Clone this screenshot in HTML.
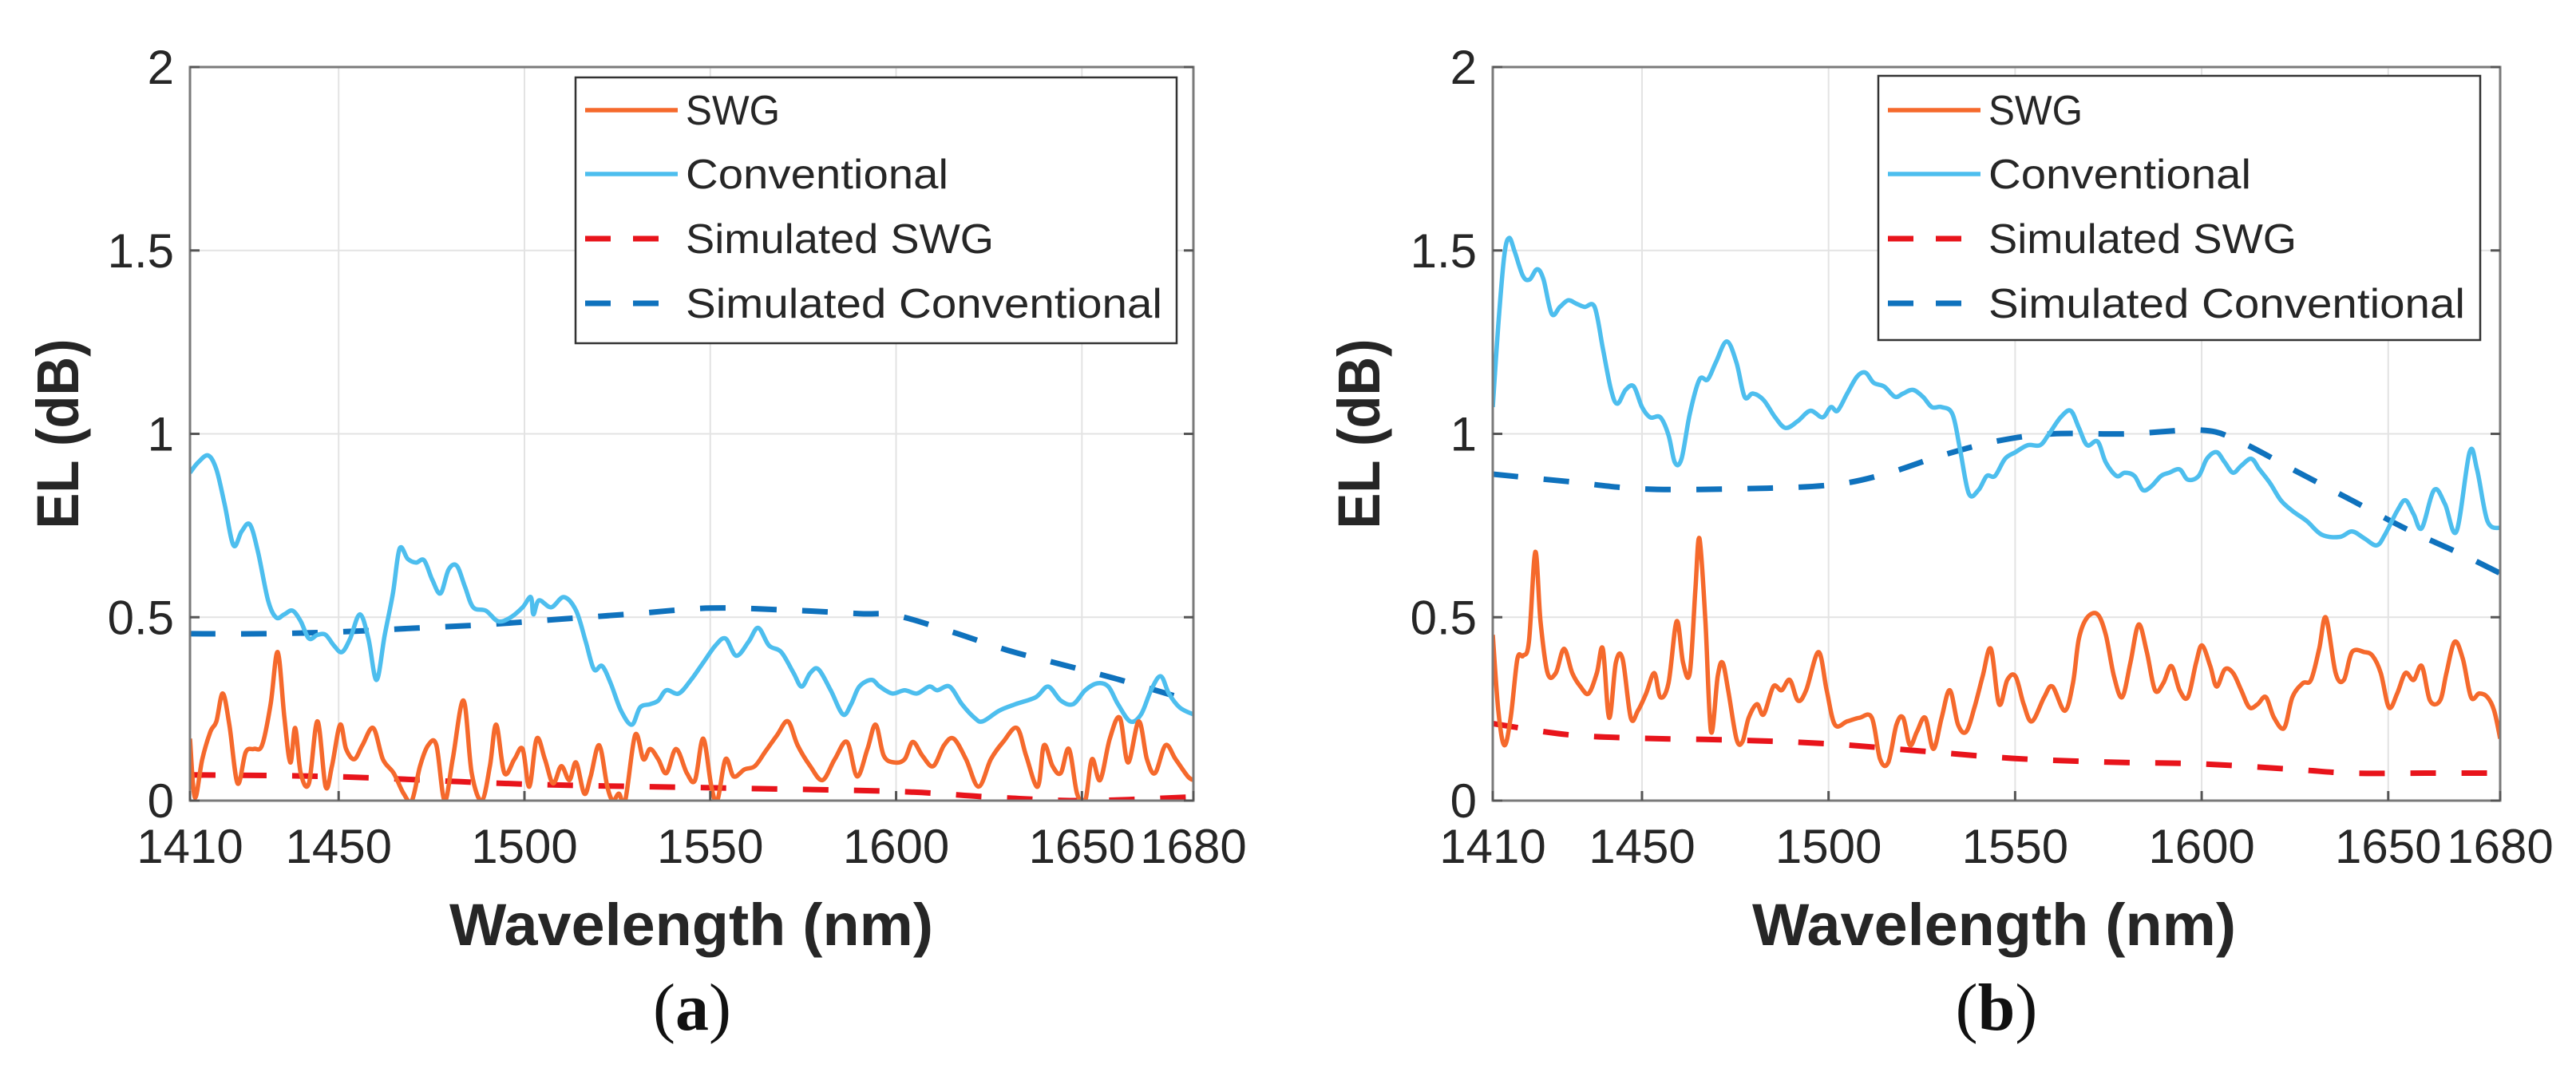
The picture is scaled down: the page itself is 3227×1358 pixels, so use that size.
<!DOCTYPE html>
<html><head><meta charset="utf-8"><style>
html,body{margin:0;padding:0;background:#fff;}
svg{display:block;font-family:"Liberation Sans",sans-serif;}
</style></head><body>
<svg id="fig" width="3227" height="1358" viewBox="0 0 3227 1358" xmlns="http://www.w3.org/2000/svg">
<rect width="3227" height="1358" fill="#fff"/>
</svg>
<script>
// ---------- data (panel a) ----------
const xTicks = [1410,1450,1500,1550,1600,1650,1680];
const yTicks = [0,0.5,1,1.5,2];
const yTickLabels = ["0","0.5","1","1.5","2"];
const legendLabels = ["SWG","Conventional","Simulated SWG","Simulated Conventional"];

const aConvX = [1410,1412.2,1414.9,1417.1,1419.3,1421.7,1423.9,1426.1,1428.3,1431,1433.2,1435.4,1437.6,1439.8,1442,1444.3,1446.5,1448.7,1450.9,1453.1,1455.7,1458,1460.2,1462.4,1464.6,1466.4,1468.6,1470.8,1473,1475.2,1477.4,1479.6,1481.8,1484,1486.2,1489.6,1492.9,1496.2,1499.5,1501.7,1502.4,1503.9,1507.2,1510.6,1513.9,1516.5,1518.7,1520.9,1523.2,1526,1528.9,1531.1,1533.8,1536,1538.2,1541.5,1544.8,1548.1,1551.4,1554.1,1557,1560.3,1562.9,1565.8,1569.1,1572.4,1574.6,1576.9,1579.1,1582.4,1585.7,1587.9,1590.1,1593.4,1595.6,1599,1602.3,1605.6,1608.9,1611.1,1614.4,1617.7,1621.1,1623.3,1627.7,1632.1,1637.6,1640.9,1644.3,1647.6,1650.9,1654.2,1657.1,1659.7,1663,1665.9,1668.6,1671.2,1673.4,1676.3,1680];
const aConvY = [0.894,0.922,0.941,0.903,0.809,0.696,0.734,0.753,0.678,0.546,0.499,0.508,0.518,0.489,0.442,0.452,0.452,0.423,0.405,0.442,0.508,0.442,0.329,0.452,0.565,0.687,0.659,0.649,0.655,0.602,0.565,0.630,0.640,0.583,0.527,0.518,0.489,0.499,0.527,0.555,0.508,0.546,0.527,0.555,0.518,0.433,0.358,0.367,0.320,0.245,0.207,0.254,0.263,0.273,0.301,0.292,0.329,0.376,0.423,0.442,0.395,0.433,0.471,0.423,0.405,0.348,0.311,0.348,0.358,0.301,0.235,0.263,0.311,0.329,0.311,0.292,0.301,0.292,0.311,0.301,0.311,0.263,0.226,0.216,0.245,0.263,0.282,0.311,0.273,0.263,0.301,0.320,0.311,0.263,0.216,0.235,0.301,0.339,0.292,0.254,0.235];
const aSwgX = [1410,1411.3,1413.3,1415.5,1417.1,1418.8,1420.6,1422.8,1425,1427.2,1429.4,1431.7,1433.6,1435.4,1437,1438.3,1439.8,1442,1444.3,1446.5,1448.2,1450.4,1452,1454.2,1456.4,1459.3,1461.9,1464.8,1467.5,1469.7,1471.9,1474.1,1476.3,1478.5,1480.7,1483.6,1485.8,1488.5,1490.7,1492.4,1494.6,1497.3,1499.5,1501.3,1503.3,1505.5,1507.7,1509.9,1512.1,1513.9,1516.1,1517.8,1520.1,1522.3,1523.8,1525.4,1527.1,1529.8,1532,1533.8,1536,1538.2,1540.8,1543.7,1545.9,1548.1,1550.3,1551.9,1554.1,1556.3,1559.2,1562,1564.7,1568,1570.9,1573.5,1576.9,1580.2,1583.5,1586.8,1589.5,1592.3,1594.5,1596.7,1599.6,1602.3,1604.5,1607.1,1610,1612.9,1615.5,1618.8,1622.2,1625.5,1628.8,1632.5,1635,1638.1,1639.8,1642.1,1644.3,1646.5,1648.7,1650.9,1652.7,1654.9,1657.5,1660.2,1662.4,1665.3,1667.5,1669.7,1672.5,1675.2,1678.5,1680];
const aSwgY = [0.169,0.009,0.113,0.188,0.216,0.292,0.207,0.047,0.132,0.141,0.151,0.263,0.405,0.226,0.104,0.198,0.075,0.047,0.216,0.038,0.094,0.207,0.141,0.113,0.151,0.198,0.113,0.075,0.019,0,0.094,0.151,0.151,0,0.113,0.273,0.075,0,0.094,0.207,0.075,0.113,0.141,0.038,0.169,0.113,0.047,0.094,0.056,0.104,0.019,0.066,0.151,0.038,0,0.019,0,0.179,0.113,0.141,0.113,0.075,0.141,0.075,0.056,0.169,0.038,0,0.113,0.066,0.085,0.094,0.132,0.179,0.216,0.151,0.094,0.056,0.113,0.160,0.066,0.141,0.207,0.122,0.104,0.113,0.160,0.122,0.094,0.151,0.169,0.113,0.038,0.113,0.160,0.198,0.122,0.038,0.151,0.094,0.075,0.141,0.019,0,0.113,0.056,0.169,0.226,0.104,0.216,0.113,0.075,0.151,0.113,0.066,0.056];
const aSimConvX = [1410,1430,1450,1470,1490,1510,1530,1550,1570,1590,1600,1615,1630,1645,1660,1680];
const aSimConvY = [0.455,0.455,0.46,0.47,0.48,0.495,0.51,0.525,0.52,0.51,0.505,0.46,0.41,0.37,0.33,0.27];
const aSimSwgX = [1410,1450,1500,1550,1600,1625,1650,1680];
const aSimSwgY = [0.07,0.065,0.045,0.035,0.025,0.01,0.0,0.01];

// ---------- data (panel b) ----------
const bConvX = [1410,1411.5,1413.1,1414.4,1415.9,1418.1,1419.9,1421.9,1423.6,1425.8,1428,1430.2,1432.4,1434.6,1437.3,1439.5,1441.7,1443.4,1445.6,1447.8,1450,1452.2,1454.9,1457.1,1458.8,1460.6,1462.8,1465.4,1467.6,1469.8,1472.7,1475.3,1477.5,1479.7,1482.6,1485.7,1488.5,1491.8,1495.1,1498.4,1500.6,1502.4,1505,1507.7,1509.9,1512.1,1514.9,1517.8,1520,1522.6,1525.3,1527.7,1530.3,1533.2,1535.2,1537.6,1540.2,1542.4,1544.6,1547.3,1550.1,1553.4,1556.7,1558.9,1562.2,1564.9,1567.1,1569.3,1572.1,1574.3,1577.2,1579.4,1582,1584.2,1586.4,1589.1,1591.3,1594.1,1596.3,1599.2,1601.4,1604,1606.2,1608.4,1610.6,1613.3,1615.5,1618.3,1621.2,1624.3,1628.2,1632.2,1637,1640.3,1643.6,1646.9,1649.1,1652.4,1654.6,1656.8,1659,1662.3,1665.2,1668.3,1671.8,1673.8,1676.6,1680];
const bConvY = [1.073,1.299,1.487,1.534,1.496,1.430,1.421,1.449,1.421,1.327,1.346,1.364,1.355,1.346,1.346,1.233,1.120,1.082,1.120,1.129,1.073,1.045,1.045,0.997,0.922,0.932,1.054,1.148,1.148,1.195,1.252,1.195,1.101,1.110,1.092,1.045,1.016,1.035,1.063,1.045,1.073,1.063,1.110,1.157,1.167,1.139,1.129,1.101,1.110,1.120,1.101,1.073,1.073,1.054,0.960,0.837,0.847,0.885,0.885,0.932,0.950,0.969,0.969,0.997,1.045,1.063,1.016,0.969,0.979,0.922,0.885,0.894,0.885,0.847,0.856,0.885,0.894,0.903,0.875,0.885,0.932,0.950,0.922,0.894,0.913,0.932,0.903,0.866,0.819,0.790,0.762,0.725,0.719,0.734,0.715,0.696,0.725,0.790,0.819,0.781,0.743,0.847,0.809,0.734,0.950,0.903,0.762,0.743];
const bSwgX = [1410,1411.5,1413.1,1414.8,1416.6,1418.1,1419.7,1421.4,1422.8,1424.7,1426.9,1429.1,1431.3,1433.5,1435.7,1437.9,1439.5,1441.2,1443,1444.8,1447,1448.9,1451.1,1453.3,1454.9,1457.1,1459.3,1461,1462.8,1464.3,1465.4,1467,1468.5,1470.3,1471.6,1473.1,1475.3,1476.9,1478.6,1480.8,1482.6,1485.2,1487.4,1489.6,1491.8,1494,1497.3,1499.5,1501.7,1505,1508.3,1511.6,1513.8,1516,1518.2,1520,1521.8,1523.7,1525.9,1528.1,1530.3,1532.5,1534.7,1536.9,1539.1,1541.3,1543.5,1545.7,1547.9,1550.1,1552.3,1554.5,1557.8,1560,1563.3,1565.5,1567.1,1569.3,1572.1,1574.3,1576.5,1578.7,1580.9,1583.1,1585.3,1587.5,1589.7,1591.9,1594.1,1596.3,1598.5,1600.1,1602.3,1604,1606.2,1608.4,1610.6,1612.8,1615,1617.2,1619.4,1622.1,1624.3,1627.1,1629.3,1631.5,1633.3,1635.9,1638.1,1640.3,1643.6,1645.8,1648,1650.2,1652.4,1654.6,1656.8,1659,1661.2,1663.9,1665.6,1667.8,1670,1672.2,1674.4,1676.6,1678.4,1680];
const bSwgY = [0.452,0.245,0.151,0.226,0.386,0.395,0.433,0.678,0.489,0.348,0.348,0.414,0.348,0.311,0.292,0.348,0.414,0.226,0.376,0.386,0.226,0.245,0.292,0.348,0.282,0.320,0.489,0.376,0.348,0.574,0.715,0.489,0.188,0.339,0.376,0.301,0.169,0.160,0.226,0.263,0.235,0.311,0.301,0.329,0.273,0.301,0.405,0.301,0.207,0.216,0.226,0.226,0.113,0.104,0.207,0.226,0.151,0.188,0.226,0.141,0.226,0.301,0.207,0.188,0.254,0.339,0.414,0.263,0.329,0.339,0.263,0.216,0.282,0.311,0.245,0.320,0.442,0.499,0.508,0.452,0.339,0.282,0.376,0.480,0.405,0.301,0.320,0.367,0.301,0.282,0.376,0.423,0.367,0.311,0.358,0.348,0.301,0.254,0.263,0.282,0.226,0.198,0.282,0.320,0.329,0.414,0.499,0.348,0.329,0.405,0.405,0.395,0.348,0.254,0.292,0.348,0.329,0.367,0.273,0.273,0.348,0.433,0.386,0.282,0.292,0.282,0.245,0.169];
const bSimConvX = [1410,1430,1450,1475,1500,1515,1530,1545,1560,1580,1600,1610,1625,1640,1655,1670,1680];
const bSimConvY = [0.89,0.87,0.85,0.85,0.86,0.89,0.94,0.98,1.0,1.0,1.01,0.98,0.90,0.82,0.74,0.67,0.62];
const bSimSwgX = [1410,1430,1450,1475,1500,1525,1550,1575,1600,1625,1640,1660,1680];
const bSimSwgY = [0.21,0.18,0.17,0.165,0.155,0.135,0.115,0.105,0.10,0.085,0.075,0.075,0.075];

const NS = "http://www.w3.org/2000/svg";
const svg = document.getElementById('fig');
function mk(tag, attrs, parent){
  const e = document.createElementNS(NS, tag);
  for (const k in attrs) e.setAttribute(k, attrs[k]);
  (parent||svg).appendChild(e);
  return e;
}
function smoothPath(pts){
  let d = "M"+pts[0][0].toFixed(1)+","+pts[0][1].toFixed(1);
  for (let i=0;i<pts.length-1;i++){
    const p0=pts[Math.max(0,i-1)], p1=pts[i], p2=pts[i+1], p3=pts[Math.min(pts.length-1,i+2)];
    const c1=[p1[0]+(p2[0]-p0[0])/6, p1[1]+(p2[1]-p0[1])/6];
    const c2=[p2[0]-(p3[0]-p1[0])/6, p2[1]-(p3[1]-p1[1])/6];
    d += " C"+c1[0].toFixed(1)+","+c1[1].toFixed(1)+" "+c2[0].toFixed(1)+","+c2[1].toFixed(1)+" "+p2[0].toFixed(1)+","+p2[1].toFixed(1);
  }
  return d;
}

const COL = {swg:"#F5692C", conv:"#4DBEEE", simSwg:"#E8141B", simConv:"#0F72BD"};

function panel(id, L, R, T, B, series, titleCx, elX, tagLabel, tagX, legBox){
  const g = mk('g', {});
  
  
  const xs = v => L + (v-1410)/(1680-1410)*(R-L);
  const ys = v => B - v/2*(B-T);
  xTicks.forEach(t=>{ if(t>1410 && t<1680){
    const l = mk('line',{x1:xs(t),x2:xs(t),y1:T,y2:B,stroke:"#e3e3e3","stroke-width":2},g);
    
    
  }});
  yTicks.forEach(t=>{ if(t>0 && t<2){
    const l = mk('line',{x1:L,x2:R,y1:ys(t),y2:ys(t),stroke:"#e3e3e3","stroke-width":2},g);
    
    
  }});
  const cp = mk('clipPath',{id:id+"-clip"},g);
  mk('rect',{x:L,y:T,width:R-L,height:B-T},cp);
  const sg = mk('g',{"clip-path":"url(#"+id+"-clip)"},g);
  series.forEach(s=>{
    const pts = s.x.map((v,i)=>[xs(v), ys(s.y[i])]);
    const p = mk('path',{d:smoothPath(pts),fill:"none",stroke:s.c,"stroke-width":s.dash?7:5.5,"stroke-linejoin":"round","stroke-dasharray":s.dash?"32 32":"none"},sg);
    
    
  });
  const box = mk('rect',{x:L,y:T,width:R-L,height:B-T,fill:"none",stroke:"#7a7a7a","stroke-width":3},g);
  
  
  xTicks.forEach(t=>{
    mk('line',{x1:xs(t),x2:xs(t),y1:B,y2:B-12,stroke:"#555","stroke-width":3},g);
    const tx = mk('text',{x:xs(t),y:1081,"font-size":60,"text-anchor":"middle",fill:"#262626"},g);
    tx.textContent = String(t);
    
    
  });
  yTicks.forEach((t,i)=>{
    mk('line',{x1:L,x2:L+12,y1:ys(t),y2:ys(t),stroke:"#555","stroke-width":3},g);
    mk('line',{x1:R,x2:R-12,y1:ys(t),y2:ys(t),stroke:"#555","stroke-width":3},g);
    const tx = mk('text',{x:L-20,y:ys(t)+21,"font-size":60,"text-anchor":"end",fill:"#262626"},g);
    tx.textContent = yTickLabels[i];
    
    
  });
  const xt = mk('text',{x:titleCx,y:1184,"font-size":74,"font-weight":"bold","text-anchor":"middle",fill:"#262626",textLength:606,lengthAdjust:"spacingAndGlyphs"},g);
  xt.textContent = "Wavelength (nm)";
  
  
  const yt = mk('text',{x:0,y:0,"font-size":74,"font-weight":"bold","text-anchor":"middle",fill:"#262626",transform:"translate("+elX+","+((T+B)/2)+") rotate(-90)",textLength:238,lengthAdjust:"spacingAndGlyphs"},g);
  yt.textContent = "EL (dB)";
  
  
  const tg = mk('text',{x:tagX,y:1290,"font-size":84,"font-family":"Liberation Serif, serif","text-anchor":"middle",fill:"#111"},g);
  tg.innerHTML = '(<tspan font-weight="bold">'+tagLabel+'</tspan>)';
  
  
  const lg = mk('g',{},g);
  
  
  mk('rect',{x:legBox[0],y:legBox[1],width:legBox[2],height:legBox[3],fill:"#fff",stroke:"#333","stroke-width":2.5},lg);
  const rowY = [138,218,299,380];
  const legCols = [COL.swg, COL.conv, COL.simSwg, COL.simConv];
  const legDash = [false,false,true,true];
  const legW = [118,329,386,597];
  legendLabels.forEach((lab,i)=>{
    const e = mk('g',{},lg);
    
    
    mk('line',{x1:legBox[0]+12,x2:legBox[0]+128,y1:rowY[i],y2:rowY[i],stroke:legCols[i],"stroke-width":legDash[i]?7:5.5,"stroke-dasharray":legDash[i]?"32 28":"none"},e);
    const t = mk('text',{x:legBox[0]+138,y:rowY[i]+18,"font-size":52,fill:"#262626",textLength:legW[i],lengthAdjust:"spacingAndGlyphs"},e);
    t.textContent = lab;
  });
}

panel('panel-a',238,1495,84,1003,[
  {name:'sim-conventional-line',x:aSimConvX,y:aSimConvY,c:COL.simConv,dash:true},
  {name:'sim-swg-line',x:aSimSwgX,y:aSimSwgY,c:COL.simSwg,dash:true},
  {name:'conventional-line',x:aConvX,y:aConvY,c:COL.conv},
  {name:'swg-line',x:aSwgX,y:aSwgY,c:COL.swg}
],866,98,'a',867,[721,97,753,333]);

panel('panel-b',1870,3132,84,1003,[
  {name:'sim-conventional-line',x:bSimConvX,y:bSimConvY,c:COL.simConv,dash:true},
  {name:'sim-swg-line',x:bSimSwgX,y:bSimSwgY,c:COL.simSwg,dash:true},
  {name:'conventional-line',x:bConvX,y:bConvY,c:COL.conv},
  {name:'swg-line',x:bSwgX,y:bSwgY,c:COL.swg}
],2498,1728,'b',2501,[2353,95,754,331]);
</script>
</body></html>
